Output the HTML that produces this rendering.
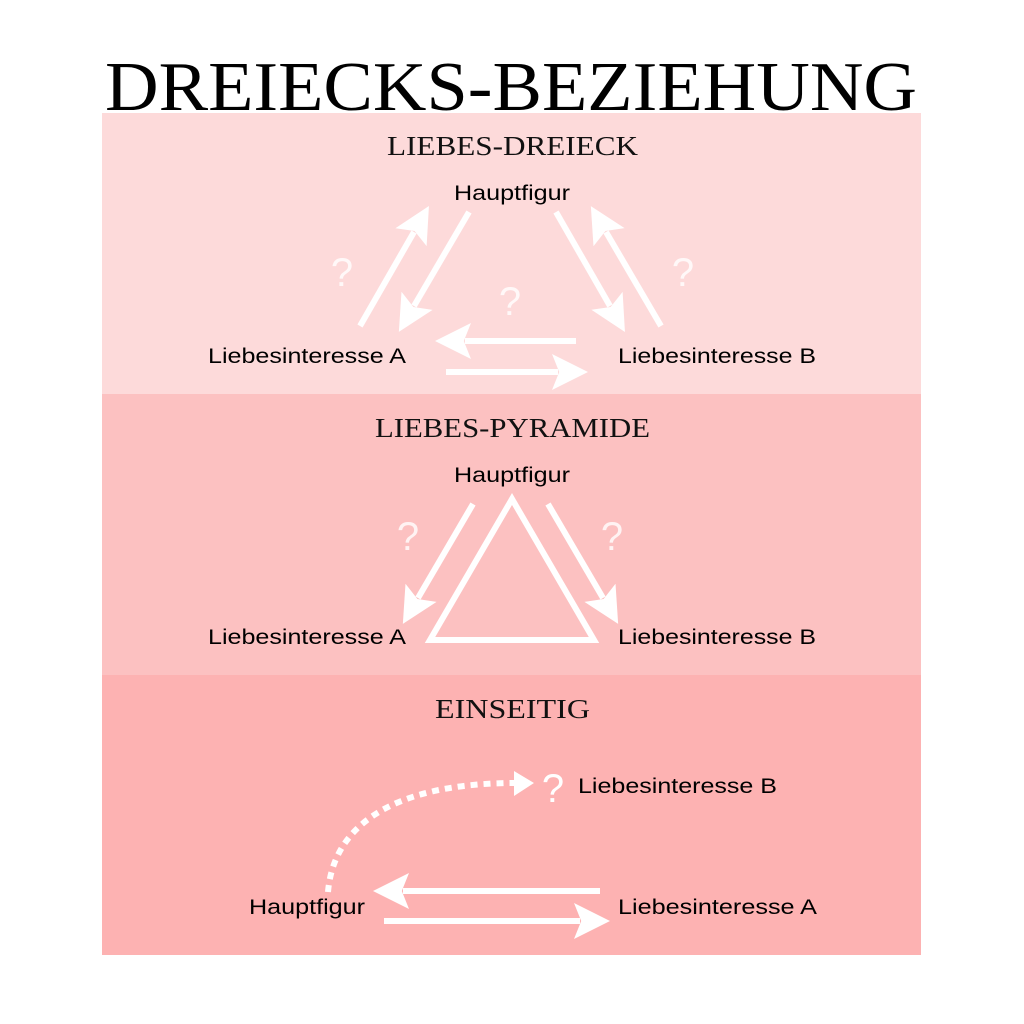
<!DOCTYPE html>
<html><head><meta charset="utf-8"><style>
html,body{margin:0;padding:0;background:#fff}
svg{display:block}
</style></head><body>
<svg width="1024" height="1024" viewBox="0 0 1024 1024" xmlns="http://www.w3.org/2000/svg">
<defs>
<marker id="ah" markerWidth="8" markerHeight="8" refX="1" refY="3" orient="auto" markerUnits="strokeWidth" viewBox="0 0 8 6">
<path d="M0,0 L6,3 L0,6 L1.2,3 Z" fill="#fff"/>
</marker>
</defs>
<rect x="0" y="0" width="1024" height="1024" fill="#fff"/>
<rect x="102" y="113" width="819" height="281" fill="#fddada"/>
<rect x="102" y="394" width="819" height="281" fill="#fcc1c1"/>
<rect x="102" y="675" width="819" height="280" fill="#fdb2b2"/>

<text x="105" y="110" font-family="Liberation Serif, serif" font-size="70" textLength="812" lengthAdjust="spacingAndGlyphs" fill="#000">DREIECKS-BEZIEHUNG</text>

<g font-family="Liberation Serif, serif" font-size="27" fill="#111">
<text x="387" y="155" textLength="251" lengthAdjust="spacingAndGlyphs">LIEBES-DREIECK</text>
<text x="375" y="437" textLength="275" lengthAdjust="spacingAndGlyphs">LIEBES-PYRAMIDE</text>
<text x="435" y="718" textLength="155" lengthAdjust="spacingAndGlyphs">EINSEITIG</text>
</g>

<g font-family="Liberation Sans, sans-serif" font-size="21" fill="#000">
<text x="454" y="200" textLength="116" lengthAdjust="spacingAndGlyphs">Hauptfigur</text>
<text x="208" y="363" textLength="198" lengthAdjust="spacingAndGlyphs">Liebesinteresse A</text>
<text x="618" y="363" textLength="198" lengthAdjust="spacingAndGlyphs">Liebesinteresse B</text>
<text x="454" y="482" textLength="116" lengthAdjust="spacingAndGlyphs">Hauptfigur</text>
<text x="208" y="644" textLength="198" lengthAdjust="spacingAndGlyphs">Liebesinteresse A</text>
<text x="618" y="644" textLength="198" lengthAdjust="spacingAndGlyphs">Liebesinteresse B</text>
<text x="578" y="793" textLength="199" lengthAdjust="spacingAndGlyphs">Liebesinteresse B</text>
<text x="249" y="914" textLength="116" lengthAdjust="spacingAndGlyphs">Hauptfigur</text>
<text x="618" y="914" textLength="199" lengthAdjust="spacingAndGlyphs">Liebesinteresse A</text>
</g>

<g font-family="Liberation Sans, sans-serif" font-size="40" fill="#fff" fill-opacity="0.8" text-anchor="middle">
<text x="342" y="286">?</text>
<text x="510" y="315">?</text>
<text x="683" y="286">?</text>
<text x="408" y="550">?</text>
<text x="612" y="550">?</text>
<text x="553" y="802" fill-opacity="1">?</text>
</g>

<g stroke="#fff" stroke-width="6" fill="none" marker-end="url(#ah)">
<line x1="360" y1="326" x2="414" y2="232"/>
<line x1="469" y1="212" x2="414" y2="306"/>
<line x1="556" y1="212" x2="610" y2="306"/>
<line x1="661" y1="326" x2="606" y2="232"/>
<line x1="576" y1="341" x2="465" y2="341"/>
<line x1="446" y1="372" x2="558" y2="372"/>
<line x1="473" y1="504" x2="418" y2="598"/>
<line x1="548" y1="504" x2="603" y2="598"/>
<line x1="600" y1="891" x2="403" y2="891"/>
<line x1="384" y1="921" x2="580" y2="921"/>
</g>
<polygon points="512,499 430,640 594,640" fill="none" stroke="#fff" stroke-width="6"/>
<path d="M328,892 C335,810 420,783 515,783" stroke="#fff" stroke-width="6" fill="none" stroke-dasharray="7,6"/>
<path d="M514,771 L534,783 L514,796 Z" fill="#fff"/>
</svg>
</body></html>
